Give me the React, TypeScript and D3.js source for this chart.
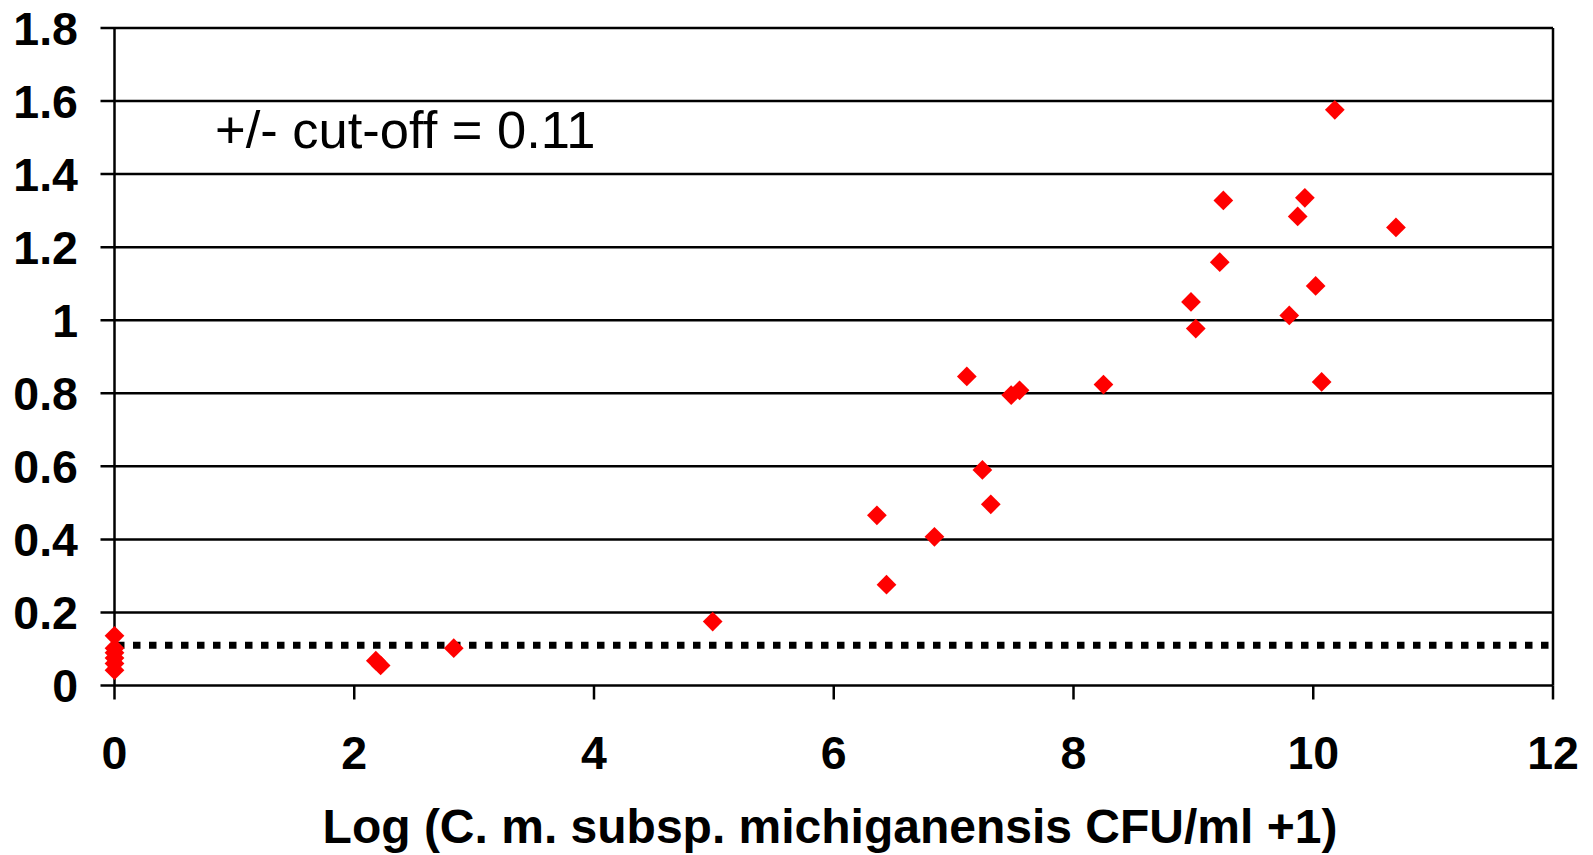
import React from 'react'
import * as d3 from 'd3'

// log CFU values (x) and absorbance readings (y)
const logCfu = [
	0, 0, 0, 0, 0, 0,
	2.18, 2.22, 2.83, 4.99,
	6.36, 6.44, 6.84, 7.11, 7.24, 7.31, 7.48, 7.55,
	8.25, 8.98, 9.02, 9.22, 9.25, 9.8, 9.87, 9.93, 10.02, 10.07, 10.18, 10.69,
]
const absorbance = [
	0.136, 0.102, 0.09, 0.075, 0.06, 0.042,
	0.068, 0.055, 0.102, 0.175,
	0.466, 0.276, 0.407, 0.846, 0.59, 0.496, 0.795, 0.808,
	0.824, 1.05, 0.977, 1.159, 1.328, 1.013, 1.284, 1.335, 1.094, 0.831, 1.576, 1.254,
]
const xTicks = [0, 2, 4, 6, 8, 10, 12]
const yTicks = [0, 0.2, 0.4, 0.6, 0.8, 1, 1.2, 1.4, 1.6, 1.8]
const cutOff = 0.11
const cutOffLabel = '+/- cut-off = 0.11'
const xTitle = 'Log (C. m. subsp. michiganensis CFU/ml +1)'

const W = 1593
const H = 855
const margin = { top: 28, right: 40, bottom: 169.5, left: 114.5 }
const font = '"Liberation Sans", Arial, sans-serif'

export default function App() {
	const x = d3.scaleLinear().domain([0, 12]).range([margin.left, W - margin.right])
	const y = d3.scaleLinear().domain([0, 1.8]).range([H - margin.bottom, margin.top])
	const diamond = d3.symbol().type(d3.symbolSquare).size(195)()
	const x0 = x(0)
	const y0 = y(0)

	return (
		<svg width={W} height={H} style={{ position: 'absolute', left: 0, top: 0, background: '#fff' }}>
			{/* gridlines, each with its own tick on the left */}
			{yTicks.map(t => (
				<g key={'y' + t}>
					<line x1={x0 - 14} x2={x(12)} y1={y(t)} y2={y(t)} stroke="#000" strokeWidth={2.5} />
					<text x={78} y={y(t)} dy="0.36em" textAnchor="end" fontFamily={font} fontWeight="bold" fontSize={46.5}>
						{d3.format('')(t)}
					</text>
				</g>
			))}

			{xTicks.map(t => (
				<g key={'x' + t}>
					<line x1={x(t)} x2={x(t)} y1={y0} y2={y0 + 14} stroke="#000" strokeWidth={2.5} />
					<text x={x(t)} y={769} textAnchor="middle" fontFamily={font} fontWeight="bold" fontSize={46.5}>
						{t}
					</text>
				</g>
			))}

			<line x1={x0} x2={x0} y1={y(1.8)} y2={y0} stroke="#000" strokeWidth={2.5} />
			<line x1={x(12)} x2={x(12)} y1={y(1.8)} y2={y0} stroke="#000" strokeWidth={2.5} />

			{/* cut-off */}
			<line x1={x0 + 2.5} x2={x(12) - 4} y1={y(cutOff)} y2={y(cutOff)}
				stroke="#000" strokeWidth={7} strokeDasharray="7.5 8.5" />

			{logCfu.map((v, i) => (
				<path key={i} d={diamond} fill="#ff0000"
					transform={`translate(${x(v)},${y(absorbance[i])}) rotate(45)`} />
			))}

			<text x={215} y={148} fontFamily={font} fontSize={52.5}>{cutOffLabel}</text>

			<text x={830} y={843} textAnchor="middle" fontFamily={font} fontWeight="bold" fontSize={48}>
				{xTitle}
			</text>
		</svg>
	)
}
